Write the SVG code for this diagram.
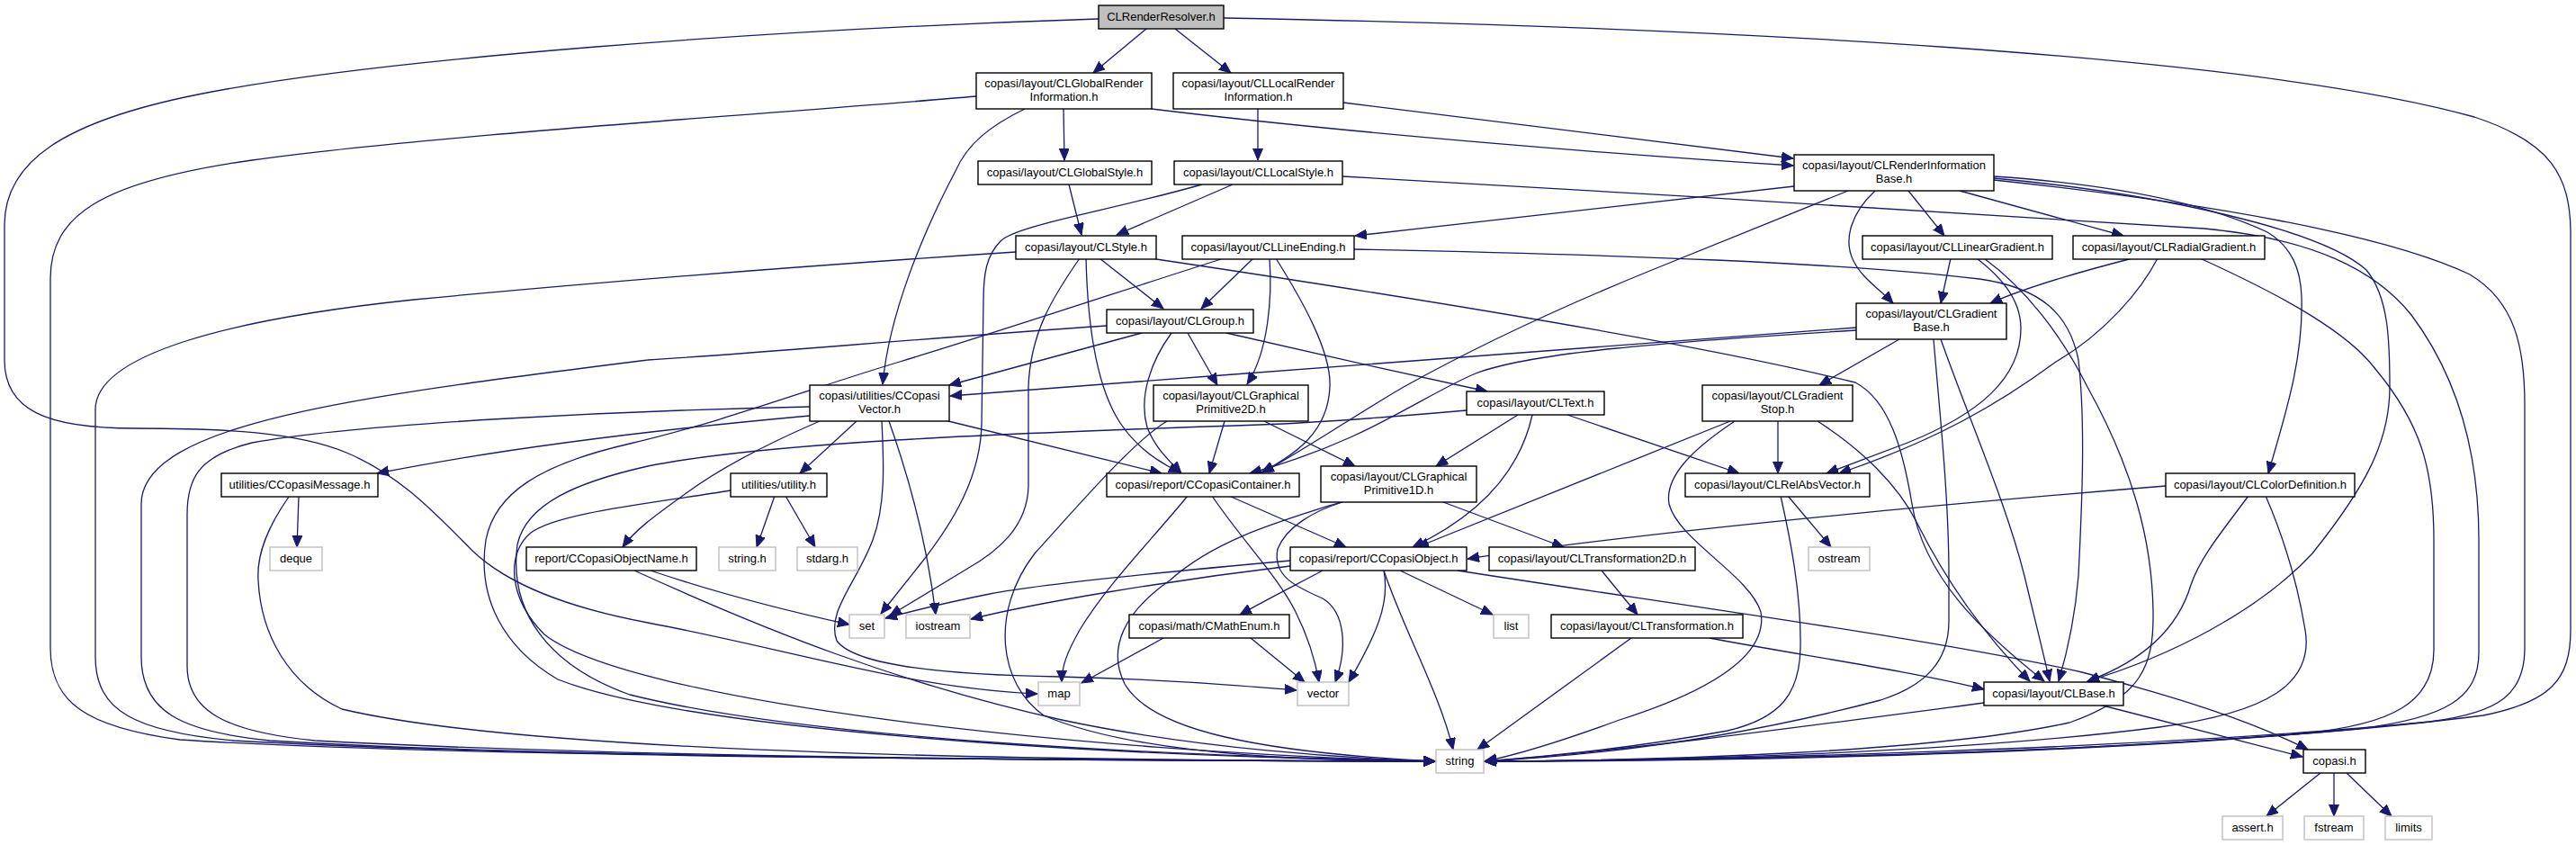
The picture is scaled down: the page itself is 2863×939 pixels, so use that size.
<svg xmlns="http://www.w3.org/2000/svg" width="2863" height="939" viewBox="0 0 2863 939">
<defs>
<marker id="a" markerWidth="14" markerHeight="12" refX="13" refY="5.5" orient="auto" markerUnits="userSpaceOnUse"><path d="M0,0 L13,5.5 L0,11 Z" fill="#191970" stroke="#191970" stroke-width="1"/></marker>
<style>
.e path{fill:none;stroke:#191970;stroke-width:1.3;marker-end:url(#a)}
.nd rect{fill:#fff;stroke:#000;stroke-width:1.4}
.gr rect{fill:#fff;stroke:#bfbfbf;stroke-width:1.4}
text{font-family:"Liberation Sans",Arial,sans-serif;font-size:13px;text-anchor:middle;fill:#000}
</style>
</defs>
<rect width="2863" height="939" fill="#fff"/>
<g id="edges" class="e">
<path d="M1274,32 L1215,81"/>
<path d="M1306,32 L1368,81"/>
<path d="M1221,21 C850,33 420,65 220,105 C70,135 5,180 5,250 L5,400 C5,455 50,476 150,476 C250,476 330,480 385,503 C445,528 485,572 525,612 C565,650 630,675 720,692 C880,722 1010,765 1153,771"/>
<path d="M1360,20 C1900,30 2500,60 2750,130 C2835,158 2857,195 2857,260 L2857,700 C2857,755 2835,780 2760,795 C2450,835 2000,844 1650,846"/>
<path d="M1085,107 C880,125 480,150 280,178 C110,202 56,240 56,310 L56,720 C56,780 95,808 200,822 C500,842 1200,845 1595,846"/>
<path d="M1182,121 L1183,178"/>
<path d="M1139,121 C1100,140 1075,160 1062,190 C1025,260 988,350 981,427"/>
<path d="M1280,121 C1500,148 1800,172 1993,184"/>
<path d="M1398,121 L1398,178"/>
<path d="M1493,114 L1993,176"/>
<path d="M1188,205 L1202,261"/>
<path d="M1370,205 L1241,261"/>
<path d="M1336,205 C1230,235 1130,250 1112,268 C1096,284 1093,305 1093,335 L1091,470 C1090,530 1060,580 1022,628 L979,682"/>
<path d="M1492,196 C1800,213 2200,238 2450,254 C2570,265 2640,300 2680,350 C2740,430 2755,520 2755,600 L2755,725 C2755,775 2720,798 2620,810 C2300,840 1900,846 1650,846"/>
<path d="M1129,280 C900,295 700,310 460,333 C250,355 106,395 106,455 L106,730 C106,790 150,813 260,823 C600,842 1200,845 1595,846"/>
<path d="M1200,287 C1170,330 1145,370 1143,430 L1143,540 C1142,585 1110,612 1075,632 L989,684"/>
<path d="M1222,287 L1293,343"/>
<path d="M1207,287 C1208,330 1212,420 1245,470 C1265,500 1290,515 1312,525"/>
<path d="M1285,288 C1600,335 1900,385 2062,425 C2100,445 2115,500 2125,560 C2138,640 2200,700 2272,757"/>
<path d="M1393,287 L1335,343"/>
<path d="M1411,287 C1414,330 1410,390 1386,427"/>
<path d="M1418,287 C1445,330 1480,390 1478,430 C1476,480 1440,505 1402,525"/>
<path d="M1357,288 C1250,322 1100,372 1000,402 C900,432 800,470 700,493 C600,516 550,548 540,600 C530,665 560,720 620,755 C760,810 1200,840 1595,846"/>
<path d="M1994,207 L1506,262"/>
<path d="M2054,212 L1836,300 C1750,335 1650,380 1560,430 C1500,465 1450,500 1403,525"/>
<path d="M2084,212 C2058,236 2048,266 2060,290 C2070,310 2090,322 2104,337"/>
<path d="M2121,212 L2161,262"/>
<path d="M2178,212 L2360,262"/>
<path d="M2216,196 C2350,205 2450,225 2520,258 C2548,275 2557,300 2558,330 C2560,400 2540,460 2521,526"/>
<path d="M2216,198 C2400,215 2580,255 2630,300 C2655,330 2656,380 2656,430 C2656,490 2630,540 2570,615 C2510,680 2410,730 2320,757"/>
<path d="M2216,200 C2450,225 2650,260 2745,305 C2795,335 2806,385 2806,450 L2806,720 C2806,770 2780,792 2700,802 C2400,832 1900,845 1650,846"/>
<path d="M2370,287 C2300,305 2250,320 2212,337"/>
<path d="M2398,287 C2380,322 2340,370 2285,402 C2220,450 2150,490 2044,526"/>
<path d="M2445,287 C2540,330 2610,370 2640,410 C2690,470 2705,520 2705,600 L2705,722 C2705,780 2660,805 2560,815 C2250,840 1900,845 1650,846"/>
<path d="M2168,287 L2157,337"/>
<path d="M2197,287 C2220,305 2246,330 2246,365 C2246,420 2200,460 2120,492 L2030,526"/>
<path d="M2205,287 C2250,320 2290,370 2320,430 C2370,520 2392,600 2393,680 C2394,740 2380,775 2300,803 C2150,836 1850,845 1650,846"/>
<path d="M1505,277 C1800,283 2050,292 2200,310 C2270,320 2300,350 2310,400 C2318,470 2314,560 2310,640 C2306,690 2296,730 2288,757"/>
<path d="M2111,377 L2022,428"/>
<path d="M2063,364 C1800,385 1400,413 1056,440"/>
<path d="M2063,367 C1850,380 1700,392 1640,415 C1580,440 1520,490 1389,526"/>
<path d="M2149,377 C2155,450 2166,550 2166,640 L2166,690 C2166,735 2140,762 2090,778 C1950,815 1800,838 1650,846"/>
<path d="M2157,377 C2190,470 2230,560 2250,640 C2262,690 2272,730 2278,757"/>
<path d="M1976,468 L1976,526"/>
<path d="M1923,468 L1575,608"/>
<path d="M1928,468 C1880,500 1850,530 1855,560 C1865,600 1945,640 1957,680 C1965,725 1910,765 1800,800 C1740,822 1690,838 1650,846"/>
<path d="M2020,468 C2070,500 2110,540 2130,580 C2160,640 2200,700 2256,757"/>
<path d="M1987,551 L2035,608"/>
<path d="M1979,551 C1990,600 2002,660 2001,720 C2000,770 1980,798 1920,812 C1800,834 1700,842 1650,846"/>
<path d="M2407,540 C2100,565 1800,595 1631,621"/>
<path d="M2499,551 C2470,590 2445,620 2435,650 C2420,700 2380,735 2320,757"/>
<path d="M2518,551 C2535,590 2552,640 2562,700 C2572,760 2520,792 2400,808 C2200,834 1900,845 1650,846"/>
<path d="M1630,456 C1550,463 1460,470 1400,472 C1100,482 850,492 720,518 C640,536 585,560 575,605 C565,680 610,740 700,772 C900,822 1300,840 1595,846"/>
<path d="M1687,461 L1596,518"/>
<path d="M1703,461 C1690,520 1650,570 1570,608"/>
<path d="M1742,461 L1933,526"/>
<path d="M1492,558 C1460,568 1430,585 1420,610 C1414,640 1440,652 1470,665 C1495,680 1498,720 1484,758"/>
<path d="M1490,558 C1420,580 1350,600 1300,645 C1250,680 1230,720 1250,760 C1280,812 1400,836 1595,846"/>
<path d="M1604,558 L1738,608"/>
<path d="M1361,468 L1344,526"/>
<path d="M1405,468 L1506,518"/>
<path d="M1297,468 C1260,490 1200,560 1150,615 C1100,680 1110,760 1160,795 C1260,838 1450,846 1595,846"/>
<path d="M1230,362 C1000,378 850,392 720,400 C400,440 157,470 157,560 L157,730 C157,790 200,813 300,823 C600,842 1200,845 1595,846"/>
<path d="M1269,370 L1055,428"/>
<path d="M1302,370 C1280,400 1265,440 1275,475 C1285,500 1300,512 1313,526"/>
<path d="M1320,370 L1353,428"/>
<path d="M1363,370 C1450,390 1560,415 1653,435"/>
<path d="M900,452 C700,456 400,470 280,492 C220,507 208,532 208,572 L208,740 C208,790 250,813 350,823 C700,842 1200,845 1595,846"/>
<path d="M900,462 C700,480 550,500 419,526"/>
<path d="M911,468 C860,490 800,520 760,550 C725,575 705,590 692,608"/>
<path d="M952,468 L889,526"/>
<path d="M980,468 C982,510 985,560 970,600 C952,648 918,680 930,712 C950,740 1050,750 1177,752 C1300,755 1380,762 1441,767"/>
<path d="M988,468 C1010,530 1030,600 1040,683"/>
<path d="M1054,468 L1291,526"/>
<path d="M1320,551 C1280,600 1230,650 1200,700 C1186,725 1180,740 1180,758"/>
<path d="M1347,551 C1380,600 1420,640 1440,680 C1455,710 1462,735 1466,758"/>
<path d="M1366,551 L1496,608"/>
<path d="M1434,623 C1300,635 1150,650 1100,660 C1040,672 1010,680 984,687"/>
<path d="M1434,629 C1300,645 1150,670 1079,688"/>
<path d="M1470,634 C1440,650 1410,665 1378,683"/>
<path d="M1538,634 C1545,670 1530,705 1499,758"/>
<path d="M1538,634 C1560,700 1600,770 1615,833"/>
<path d="M1556,634 L1659,683"/>
<path d="M1620,634 C1850,670 2150,710 2314,747 C2420,775 2500,800 2565,833"/>
<path d="M1293,709 L1202,759"/>
<path d="M1390,709 L1450,758"/>
<path d="M1780,634 L1820,683"/>
<path d="M1813,709 L1642,833"/>
<path d="M1900,709 C2000,728 2120,745 2205,766"/>
<path d="M2205,781 C2000,808 1800,835 1650,846"/>
<path d="M2333,783 L2559,841"/>
<path d="M2579,859 L2519,907"/>
<path d="M2594,859 L2594,907"/>
<path d="M2608,859 L2658,907"/>
<path d="M723,634 C800,660 880,680 944,694"/>
<path d="M705,634 C850,700 1000,760 1180,800 C1330,832 1500,843 1595,846"/>
<path d="M861,551 L841,608"/>
<path d="M873,551 L906,608"/>
<path d="M812,545 C720,560 620,570 590,592 C562,615 565,665 605,705 C700,780 1200,836 1595,846"/>
<path d="M332,552 L330,608"/>
<path d="M321,552 C298,585 285,615 287,645 C290,705 320,760 380,788 C600,840 1200,845 1595,846"/>
</g>
<g id="n1" class="nd"><rect x="1221" y="6" width="139" height="26" style="fill:#bfbfbf"/><text x="1290.5" y="23">CLRenderResolver.h</text></g>
<g id="n2" class="nd"><rect x="1085" y="81" width="195" height="40"/><text x="1182.5" y="97">copasi/layout/CLGlobalRender</text><text x="1182.5" y="112">Information.h</text></g>
<g id="n3" class="nd"><rect x="1304" y="81" width="189" height="40"/><text x="1398.5" y="97">copasi/layout/CLLocalRender</text><text x="1398.5" y="112">Information.h</text></g>
<g id="n4" class="nd"><rect x="1087" y="179" width="193" height="26"/><text x="1183.5" y="196">copasi/layout/CLGlobalStyle.h</text></g>
<g id="n5" class="nd"><rect x="1305" y="179" width="187" height="26"/><text x="1398.5" y="196">copasi/layout/CLLocalStyle.h</text></g>
<g id="n6" class="nd"><rect x="1129" y="262" width="156" height="26"/><text x="1207" y="279">copasi/layout/CLStyle.h</text></g>
<g id="n7" class="nd"><rect x="1314" y="262" width="191" height="26"/><text x="1409.5" y="279">copasi/layout/CLLineEnding.h</text></g>
<g id="n8" class="nd"><rect x="1994" y="172" width="222" height="40"/><text x="2105" y="188">copasi/layout/CLRenderInformation</text><text x="2105" y="203">Base.h</text></g>
<g id="n9" class="nd"><rect x="2070" y="262" width="211" height="26"/><text x="2175.5" y="279">copasi/layout/CLLinearGradient.h</text></g>
<g id="n10" class="nd"><rect x="2304" y="262" width="213" height="26"/><text x="2410.5" y="279">copasi/layout/CLRadialGradient.h</text></g>
<g id="n11" class="nd"><rect x="1230" y="344" width="163" height="26"/><text x="1311.5" y="361">copasi/layout/CLGroup.h</text></g>
<g id="n12" class="nd"><rect x="2063" y="337" width="167" height="40"/><text x="2146.5" y="353">copasi/layout/CLGradient</text><text x="2146.5" y="368">Base.h</text></g>
<g id="n13" class="nd"><rect x="900" y="428" width="155" height="40"/><text x="977.5" y="444">copasi/utilities/CCopasi</text><text x="977.5" y="459">Vector.h</text></g>
<g id="n14" class="nd"><rect x="1282" y="428" width="172" height="40"/><text x="1368" y="444">copasi/layout/CLGraphical</text><text x="1368" y="459">Primitive2D.h</text></g>
<g id="n15" class="nd"><rect x="1630" y="435" width="153" height="26"/><text x="1706.5" y="452">copasi/layout/CLText.h</text></g>
<g id="n16" class="nd"><rect x="1892" y="428" width="167" height="40"/><text x="1975.5" y="444">copasi/layout/CLGradient</text><text x="1975.5" y="459">Stop.h</text></g>
<g id="n17" class="nd"><rect x="246" y="526" width="174" height="26"/><text x="333" y="543">utilities/CCopasiMessage.h</text></g>
<g id="n18" class="nd"><rect x="812" y="526" width="107" height="26"/><text x="865.5" y="543">utilities/utility.h</text></g>
<g id="n19" class="nd"><rect x="1230" y="526" width="214" height="26"/><text x="1337" y="543">copasi/report/CCopasiContainer.h</text></g>
<g id="n20" class="nd"><rect x="1468" y="518" width="173" height="40"/><text x="1554.5" y="534">copasi/layout/CLGraphical</text><text x="1554.5" y="549">Primitive1D.h</text></g>
<g id="n21" class="nd"><rect x="1873" y="526" width="205" height="26"/><text x="1975.5" y="543">copasi/layout/CLRelAbsVector.h</text></g>
<g id="n22" class="nd"><rect x="2407" y="526" width="210" height="26"/><text x="2512" y="543">copasi/layout/CLColorDefinition.h</text></g>
<g id="n23" class="gr"><rect x="300" y="608" width="58" height="26"/><text x="329" y="625">deque</text></g>
<g id="n24" class="nd"><rect x="585" y="608" width="189" height="26"/><text x="679.5" y="625">report/CCopasiObjectName.h</text></g>
<g id="n25" class="gr"><rect x="799" y="608" width="63" height="26"/><text x="830.5" y="625">string.h</text></g>
<g id="n26" class="gr"><rect x="886" y="608" width="67" height="26"/><text x="919.5" y="625">stdarg.h</text></g>
<g id="n27" class="nd"><rect x="1434" y="608" width="196" height="26"/><text x="1532" y="625">copasi/report/CCopasiObject.h</text></g>
<g id="n28" class="nd"><rect x="1655" y="608" width="229" height="26"/><text x="1769.5" y="625">copasi/layout/CLTransformation2D.h</text></g>
<g id="n29" class="gr"><rect x="2010" y="608" width="68" height="26"/><text x="2044" y="625">ostream</text></g>
<g id="n30" class="gr"><rect x="944" y="683" width="39" height="26"/><text x="963.5" y="700">set</text></g>
<g id="n31" class="gr"><rect x="1007" y="683" width="71" height="26"/><text x="1042.5" y="700">iostream</text></g>
<g id="n32" class="nd"><rect x="1255" y="683" width="178" height="26"/><text x="1344" y="700">copasi/math/CMathEnum.h</text></g>
<g id="n33" class="gr"><rect x="1660" y="683" width="39" height="26"/><text x="1679.5" y="700">list</text></g>
<g id="n34" class="nd"><rect x="1724" y="683" width="213" height="26"/><text x="1830.5" y="700">copasi/layout/CLTransformation.h</text></g>
<g id="n35" class="gr"><rect x="1154" y="758" width="46" height="26"/><text x="1177" y="775">map</text></g>
<g id="n36" class="gr"><rect x="1442" y="758" width="57" height="26"/><text x="1470.5" y="775">vector</text></g>
<g id="n37" class="nd"><rect x="2205" y="758" width="155" height="26"/><text x="2282.5" y="775">copasi/layout/CLBase.h</text></g>
<g id="n38" class="gr"><rect x="1596" y="833" width="53" height="26"/><text x="1622.5" y="850">string</text></g>
<g id="n39" class="nd"><rect x="2560" y="833" width="69" height="26"/><text x="2594.5" y="850">copasi.h</text></g>
<g id="n40" class="gr"><rect x="2470" y="907" width="67" height="26"/><text x="2503.5" y="924">assert.h</text></g>
<g id="n41" class="gr"><rect x="2561" y="907" width="66" height="26"/><text x="2594" y="924">fstream</text></g>
<g id="n42" class="gr"><rect x="2651" y="907" width="52" height="26"/><text x="2677" y="924">limits</text></g>
</svg>
